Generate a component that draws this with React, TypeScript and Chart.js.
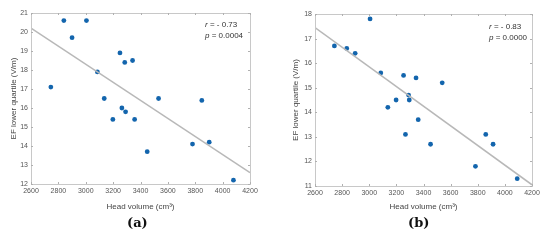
import React, { useEffect, useRef } from "react";
import { Chart, registerables } from "chart.js";

Chart.register(...registerables);

// Panel (a)
const headVolumeA = [2840, 3005, 2900, 3250, 3285, 3342, 3085, 2745, 3135, 3532, 3848, 3264, 3291, 3198, 3357, 3449, 3780, 3902, 4079];
const efLowerA = [20.6, 20.6, 19.7, 18.9, 18.4, 18.5, 17.9, 17.1, 16.5, 16.5, 16.4, 16.0, 15.8, 15.4, 15.4, 13.7, 14.1, 14.2, 12.2];
const fitXA = [2600, 4200];
const fitYA = [20.2, 12.6];
const yTicksA = [12, 21];

// Panel (b)
const headVolumeB = [2743, 2834, 2896, 3006, 3085, 3253, 3345, 3538, 3290, 3198, 3295, 3137, 3361, 3267, 3452, 3859, 3913, 3783, 4091];
const efLowerB = [16.7, 16.6, 16.4, 17.8, 15.6, 15.5, 15.4, 15.2, 14.7, 14.5, 14.5, 14.2, 13.7, 13.1, 12.7, 13.1, 12.7, 11.8, 11.3];
const fitXB = [2600, 4200];
const fitYB = [17.45, 11.05];
const yTicksB = [11, 18];

const xRange = [2600, 4200];

const FONT = "'Liberation Sans', Arial, sans-serif";

const boxPlugin = {
  id: "boxPlugin",
  afterDatasetsDraw(chart: any) {
    const { ctx, chartArea: a, scales } = chart;
    ctx.save();
    ctx.strokeStyle = "#c8c8c8";
    ctx.lineWidth = 1;
    ctx.strokeRect(Math.round(a.left) + 0.5, Math.round(a.top) + 0.5, Math.round(a.right - a.left), Math.round(a.bottom - a.top));
    ctx.strokeStyle = "#b0b0b0";
    const tl = 2;
    ctx.beginPath();
    scales.x.ticks.forEach((t: any) => {
      const px = Math.round(scales.x.getPixelForValue(t.value)) + 0.5;
      ctx.moveTo(px, a.bottom);
      ctx.lineTo(px, a.bottom - tl);
      ctx.moveTo(px, a.top);
      ctx.lineTo(px, a.top + tl);
    });
    scales.y.ticks.forEach((t: any) => {
      const py = Math.round(scales.y.getPixelForValue(t.value)) + 0.5;
      ctx.moveTo(a.left, py);
      ctx.lineTo(a.left + tl, py);
      ctx.moveTo(a.right, py);
      ctx.lineTo(a.right - tl, py);
    });
    ctx.stroke();
    ctx.restore();
  },
};

type PanelProps = {
  xs: number[];
  ys: number[];
  fx: number[];
  fy: number[];
  yr: number[];
  padTop: number;
  padRight: number;
  yWidth: number;
  bottomArea: number;
  titlePadY: number;
};

function Panel(p: PanelProps) {
  const ref = useRef<HTMLCanvasElement>(null);
  useEffect(() => {
    const chart = new Chart(ref.current as HTMLCanvasElement, {
      type: "scatter",
      data: {
        datasets: [
          {
            type: "line",
            data: p.fx.map((x, i) => ({ x, y: p.fy[i] })),
            borderColor: "#b8b8b8",
            borderWidth: 1.5,
            pointRadius: 0,
            order: 0,
          } as any,
          {
            data: p.xs.map((x, i) => ({ x, y: p.ys[i] })),
            backgroundColor: "#1365ad",
            borderColor: "#1365ad",
            pointRadius: 2.4,
            borderWidth: 0,
            order: 1,
          },
        ],
      },
      options: {
        animation: false,
        responsive: false,
        layout: { padding: { left: 0, top: p.padTop, right: p.padRight, bottom: 0 } },
        plugins: { legend: { display: false }, tooltip: { enabled: false } },
        scales: {
          x: {
            type: "linear",
            min: xRange[0],
            max: xRange[1],
            ticks: { stepSize: 200, color: "#555", font: { family: FONT, size: 7 }, padding: 3, maxRotation: 0, callback: (v: any) => String(v) },
            grid: { display: false, drawTicks: false },
            border: { display: false },
            title: { display: true, text: "Head volume (cm³)", color: "#444", font: { family: FONT, size: 8 }, padding: { top: 0, bottom: 6 } },
            afterFit: (s: any) => {
              s.height = p.bottomArea;
            },
          },
          y: {
            type: "linear",
            min: p.yr[0],
            max: p.yr[1],
            ticks: { stepSize: 1, color: "#555", font: { family: FONT, size: 7 }, padding: 3, callback: (v: any) => String(v) },
            grid: { display: false, drawTicks: false },
            border: { display: false },
            title: { display: true, text: "EF lower quartile (V/m)", color: "#444", font: { family: FONT, size: 8 }, padding: { top: p.titlePadY, bottom: 0 } },
            afterFit: (s: any) => {
              s.width = p.yWidth;
            },
          },
        },
      },
      plugins: [boxPlugin],
    });
    return () => chart.destroy();
  }, []);
  return <canvas ref={ref} width={275} height={218} style={{ display: "block" }} />;
}

const annStyle: React.CSSProperties = {
  position: "absolute",
  fontFamily: FONT,
  fontSize: 8,
  color: "#333",
  lineHeight: "11px",
  whiteSpace: "nowrap",
};

const capStyle: React.CSSProperties = {
  position: "absolute",
  fontFamily: "'DejaVu Serif', 'Liberation Serif', serif",
  fontWeight: "bold",
  fontSize: 13,
  color: "#111",
  top: 215,
};

export default function App() {
  return (
    <div style={{ position: "fixed", left: 0, top: 0, width: 550, height: 240, background: "#fff" }}>
      <div style={{ position: "absolute", left: 0, top: 0 }}>
        <Panel xs={headVolumeA} ys={efLowerA} fx={fitXA} fy={fitYA} yr={yTicksA} padTop={13} padRight={25} yWidth={31} bottomArea={34} titlePadY={9} />
      </div>
      <div style={{ position: "absolute", left: 275, top: 0 }}>
        <Panel xs={headVolumeB} ys={efLowerB} fx={fitXB} fy={fitYB} yr={yTicksB} padTop={14} padRight={18} yWidth={40} bottomArea={32} titlePadY={16} />
      </div>
      <div style={{ ...annStyle, left: 205, top: 19 }}>
        <div><i>r</i> = - 0.73</div>
        <div><i>p</i> = 0.0004</div>
      </div>
      <div style={{ ...annStyle, left: 489, top: 21 }}>
        <div><i>r</i> = - 0.83</div>
        <div><i>p</i> = 0.0000</div>
      </div>
      <div style={{ ...capStyle, left: 127 }}>(a)</div>
      <div style={{ ...capStyle, left: 408 }}>(b)</div>
    </div>
  );
}
